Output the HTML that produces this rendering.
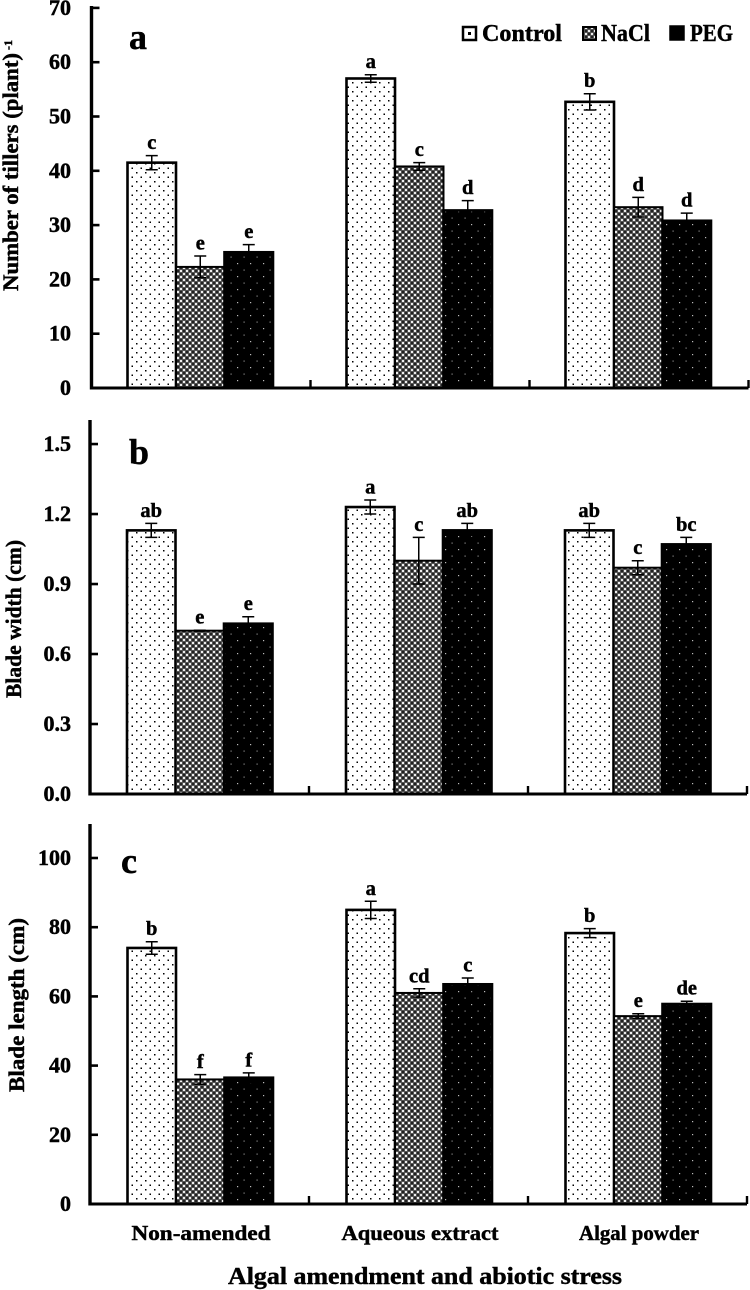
<!DOCTYPE html>
<html lang="en">
<head>
<meta charset="utf-8">
<title>Tillers, blade width and blade length</title>
<style>
html,body{margin:0;padding:0;background:#fff;}
svg{display:block;}
text{font-family:"Liberation Serif",serif;font-weight:bold;fill:#000;stroke:#000;stroke-width:0.45;}
</style>
</head>
<body>
<svg id="chart" xmlns="http://www.w3.org/2000/svg" width="750" height="1290" viewBox="0 0 750 1290">
<defs>
<pattern id="pat-control" width="9" height="9" patternUnits="userSpaceOnUse">
<rect width="9" height="9" fill="#fff"/>
<rect x="1" y="1" width="1.5" height="1.5" fill="#000"/>
<rect x="5.5" y="5.5" width="1.5" height="1.5" fill="#000"/>
</pattern>
<pattern id="pat-nacl" width="6" height="6" patternUnits="userSpaceOnUse">
<rect width="6" height="6" fill="#555"/>
<rect x="0" y="0" width="2" height="2" fill="#eee"/>
<rect x="3" y="3" width="2" height="2" fill="#eee"/>
<rect x="3" y="0" width="2" height="2" fill="#222"/>
<rect x="0" y="3" width="2" height="2" fill="#222"/>
</pattern>
<pattern id="pat-peg" width="13" height="13" patternUnits="userSpaceOnUse">
<rect width="13" height="13" fill="#000"/>
<rect x="3" y="3" width="1.2" height="1.2" fill="#bbb"/>
<rect x="9.5" y="9.5" width="1.2" height="1.2" fill="#888"/>
</pattern>
</defs>
<g id="plots"></g>
<g>
<g>
<rect x="463" y="27" width="13" height="13" fill="#fff" stroke="#000" stroke-width="2.5"/>
<rect x="468" y="32" width="3" height="3" fill="#000"/>
<text x="482" y="41" font-size="24" textLength="80" lengthAdjust="spacingAndGlyphs">Control</text>
</g>
<g>
<rect x="583" y="27" width="13" height="13" fill="url(#pat-nacl)" stroke="#000" stroke-width="2"/>
<text x="601" y="41" font-size="24" textLength="49" lengthAdjust="spacingAndGlyphs">NaCl</text>
</g>
<g>
<rect x="670" y="26" width="14" height="14" fill="#000" stroke="#000" stroke-width="1.5"/>
<text x="690" y="41" font-size="24" textLength="43" lengthAdjust="spacingAndGlyphs">PEG</text>
</g>
</g>
<text x="228" y="1284" font-size="24" textLength="394" lengthAdjust="spacingAndGlyphs">Algal amendment and abiotic stress</text>
</svg>
<script>
var categories = ['Non-amended', 'Aqueous extract', 'Algal powder'];
var seriesNames = ['control', 'nacl', 'peg'];

var tillersControl = [41.5, 57, 52.7];
var tillersNacl = [22.3, 40.8, 33.3];
var tillersPeg = [25, 32.7, 30.8];
var tillersControlErr = [1.3, 0.7, 1.5];
var tillersNaclErr = [2, 0.7, 1.8];
var tillersPegErr = [1.4, 1.8, 1.4];
var tillersControlSig = ['c', 'a', 'b'];
var tillersNaclSig = ['e', 'c', 'd'];
var tillersPegSig = ['e', 'd', 'd'];
var tillersTicks = ['0', '10', '20', '30', '40', '50', '60', '70'];

var widthControl = [1.13, 1.23, 1.13];
var widthNacl = [0.7, 1.0, 0.97];
var widthPeg = [0.73, 1.13, 1.07];
var widthControlErr = [0.03, 0.03, 0.03];
var widthNaclErr = [0.002, 0.1, 0.03];
var widthPegErr = [0.03, 0.03, 0.03];
var widthControlSig = ['ab', 'a', 'ab'];
var widthNaclSig = ['e', 'c', 'c'];
var widthPegSig = ['e', 'ab', 'bc'];
var widthTicks = ['0.0', '0.3', '0.6', '0.9', '1.2', '1.5'];

var lengthControl = [74, 85, 78.3];
var lengthNacl = [36, 61, 54.3];
var lengthPeg = [36.5, 63.5, 57.8];
var lengthControlErr = [1.8, 2.5, 1.3];
var lengthNaclErr = [1.4, 1.2, 0.7];
var lengthPegErr = [1.4, 1.8, 0.8];
var lengthControlSig = ['b', 'a', 'b'];
var lengthNaclSig = ['f', 'cd', 'e'];
var lengthPegSig = ['f', 'c', 'de'];
var lengthTicks = ['0', '20', '40', '60', '80', '100'];

var NS = 'http://www.w3.org/2000/svg';
var plots = document.getElementById('plots');

function make(parent, tag, attrs) {
  var el = document.createElementNS(NS, tag);
  for (var k in attrs) { el.setAttribute(k, attrs[k]); }
  parent.appendChild(el);
  return el;
}

function drawPanel(p) {
  var g = make(plots, 'g', {});
  
  
  function yScale(v) { return p.y0 - (v - 0) * p.pxPerUnit; }
  function catLeft(i) { return p.x0 + i * 219; }
  var barW = 48.5, offset = p.barOffset;

  p.series.forEach(function (vals, s) {
    vals.forEach(function (v, i) {
      var x = catLeft(i) + offset + s * barW;
      var top = yScale(v);
      var bar = make(g, 'rect', { x: x, y: top, width: barW, height: p.y0 - top,
        fill: 'url(#pat-' + seriesNames[s] + ')', stroke: '#000', 'stroke-width': s === 1 ? 2 : 2.6 });
      
      
    });
  });

  p.series.forEach(function (vals, s) {
    vals.forEach(function (v, i) {
      var cx = catLeft(i) + offset + s * barW + barW / 2;
      var e = p.errs[s][i];
      var hi = yScale(v + e), lo = yScale(v - e);
      var err = make(g, 'path', { d: 'M' + (cx - 6) + ' ' + hi + 'H' + (cx + 6) + 'M' + cx + ' ' + hi + 'V' + lo + 'M' + (cx - 6) + ' ' + lo + 'H' + (cx + 6),
        fill: 'none', stroke: '#000', 'stroke-width': 1.5 });
      
      
      var sig = make(g, 'text', { x: cx, y: hi - 6.5, 'font-size': 20.5, 'text-anchor': 'middle' });
      sig.textContent = p.sigs[s][i];
      
      
    });
  });

  var yAxis = make(g, 'line', { x1: p.x0, x2: p.x0, y1: p.top, y2: p.y0 + 1.5, stroke: '#000', 'stroke-width': 3.4 });
  
  
  var xAxis = make(g, 'line', { x1: p.x0 - 1.5, x2: p.x0 + 657, y1: p.y0, y2: p.y0, stroke: '#000', 'stroke-width': 3 });
  
  

  for (var c = 1; c <= categories.length; c++) {
    var tx = catLeft(c);
    var xt = make(g, 'line', { x1: tx, x2: tx, y1: p.y0 - 8, y2: p.y0, stroke: '#000', 'stroke-width': 2.4 });
    
    
  }

  p.ticks.forEach(function (label) {
    var y = yScale(parseFloat(label));
    var t = make(g, 'line', { x1: p.x0, x2: p.x0 + 8, y1: y, y2: y, stroke: '#000', 'stroke-width': 2.6 });
    
    
    var tl = make(g, 'text', { x: 71, y: y + 7, 'font-size': 22, 'text-anchor': 'end' });
    tl.textContent = label;
    
    
  });

  var letter = make(g, 'text', { x: p.letterX, y: p.letterY, 'font-size': 36 });
  letter.textContent = p.id;
  
  

  var title = make(g, 'text', { transform: 'translate(' + p.titleX + ' ' + p.titleY + ') rotate(-90)', x: 0, y: 0, 'font-size': 22,
    textLength: p.titleLen, lengthAdjust: 'spacingAndGlyphs' });
  title.textContent = p.title;
  
  
  if (p.sup) {
    var sup = make(g, 'text', { transform: 'translate(' + (p.titleX - 6) + ' ' + (p.titleY - p.titleLen - 3) + ') rotate(-90)', x: 0, y: 0, 'font-size': 12 });
    sup.textContent = p.sup;
    
    
  }
}

drawPanel({ id: 'a', x0: 91.5, y0: 388, top: 6, barOffset: 36, pxPerUnit: 5.43,
  series: [tillersControl, tillersNacl, tillersPeg],
  errs: [tillersControlErr, tillersNaclErr, tillersPegErr],
  sigs: [tillersControlSig, tillersNaclSig, tillersPegSig],
  ticks: tillersTicks, letterX: 129, letterY: 49,
  title: 'Number of tillers (plant)', titleX: 18, titleY: 291, titleLen: 238, sup: '-1' });

drawPanel({ id: 'b', x0: 90, y0: 794, top: 420, barOffset: 37, pxPerUnit: 233.3,
  series: [widthControl, widthNacl, widthPeg],
  errs: [widthControlErr, widthNaclErr, widthPegErr],
  sigs: [widthControlSig, widthNaclSig, widthPegSig],
  ticks: widthTicks, letterX: 129, letterY: 464,
  title: 'Blade width (cm)', titleX: 21, titleY: 698, titleLen: 158 });

drawPanel({ id: 'c', x0: 90, y0: 1204, top: 824, barOffset: 37.5, pxPerUnit: 3.46,
  series: [lengthControl, lengthNacl, lengthPeg],
  errs: [lengthControlErr, lengthNaclErr, lengthPegErr],
  sigs: [lengthControlSig, lengthNaclSig, lengthPegSig],
  ticks: lengthTicks, letterX: 121, letterY: 873,
  title: 'Blade length (cm)', titleX: 24, titleY: 1092, titleLen: 174 });

var catY = 1240;
categories.forEach(function (name, i) {
  var svg = document.getElementById('chart');
  var t = make(svg, 'text', { x: 90 + i * 219 + 111, y: catY, 'font-size': 21, 'text-anchor': 'middle', textLength: [139, 157, 120][i], lengthAdjust: 'spacingAndGlyphs' });
  t.textContent = name;
  
  
});
</script>
</body>
</html>
